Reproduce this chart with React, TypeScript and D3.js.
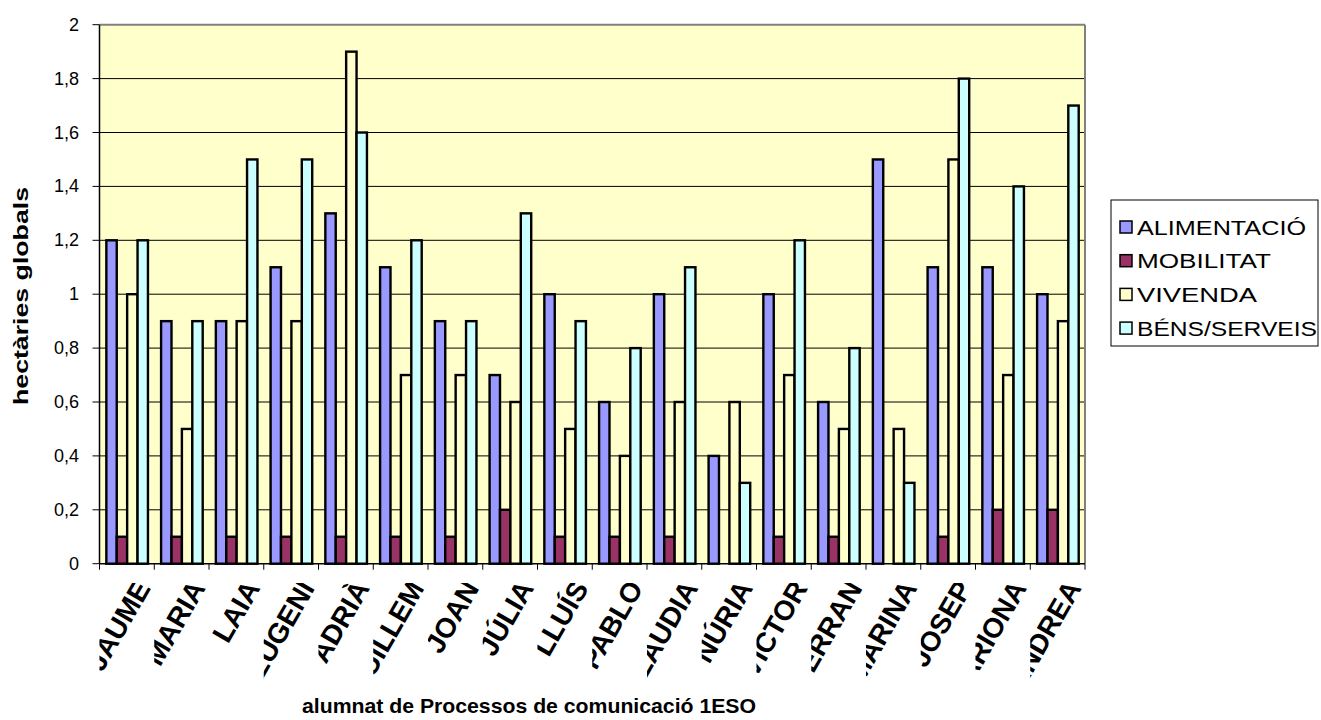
import React from "react";
import * as d3 from "d3";

const categories = [
  "JAUME", "MARIA", "LAIA", "EUGENI", "ADRIÀ", "GUILLEM", "JOAN", "JÚLIA", "LLUÍS",
  "PABLO", "CLAUDIA", "NÚRIA", "VÍCTOR", "FERRAN", "MARINA", "JOSEP", "MARIONA", "ANDREA",
];
const alimentacio = [1.2, 0.9, 0.9, 1.1, 1.3, 1.1, 0.9, 0.7, 1.0, 0.6, 1.0, 0.4, 1.0, 0.6, 1.5, 1.1, 1.1, 1.0];
const mobilitat = [0.1, 0.1, 0.1, 0.1, 0.1, 0.1, 0.1, 0.2, 0.1, 0.1, 0.1, 0, 0.1, 0.1, 0, 0.1, 0.2, 0.2];
const vivenda = [1.0, 0.5, 0.9, 0.9, 1.9, 0.7, 0.7, 0.6, 0.5, 0.4, 0.6, 0.6, 0.7, 0.5, 0.5, 1.5, 0.7, 0.9];
const bensServeis = [1.2, 0.9, 1.5, 1.5, 1.6, 1.2, 0.9, 1.3, 0.9, 0.8, 1.1, 0.3, 1.2, 0.8, 0.3, 1.8, 1.4, 1.7];

const seriesNames = ["ALIMENTACIÓ", "MOBILITAT", "VIVENDA", "BÉNS/SERVEIS"];
const seriesColors = ["#9999FF", "#993366", "#FFFFCC", "#CCFFFF"];
const seriesValues = [alimentacio, mobilitat, vivenda, bensServeis];

const yTicks = [0, 0.2, 0.4, 0.6, 0.8, 1, 1.2, 1.4, 1.6, 1.8, 2];
const yTickLabels = ["0", "0,2", "0,4", "0,6", "0,8", "1", "1,2", "1,4", "1,6", "1,8", "2"];

const yTitle = "hectàries globals";
const xTitle = "alumnat de Processos de comunicació 1ESO";

// layout
const W = 1321;
const H = 720;
const PL = 99.5;
const PR = 1085;
const PT = 24.7;
const PB = 563.7;
const legendTextLen = [169, 134, 120, 180];
const FONT = "'Liberation Sans', Arial, Helvetica, sans-serif";

export default function App() {
  const x0 = d3.scaleBand<string>().domain(categories).range([PL, PR]).padding(0);
  const bw = x0.bandwidth();
  const x1 = d3
    .scaleBand<string>()
    .domain(seriesNames)
    .range([0.125 * bw, 0.885 * bw])
    .padding(0);
  const y = d3.scaleLinear().domain([0, 2]).range([PB, PT]);

  return (
    <svg
      width={W}
      height={H}
      viewBox={`0 0 ${W} ${H}`}
      style={{ position: "absolute", left: 0, top: 0, background: "#fff" }}
      fontFamily={FONT}
    >
      <defs>
        {categories.map((c, i) => (
          <clipPath id={`clip${i}`} key={c}>
            <rect x={x0(c)!} y={583} width={bw} height={110} />
          </clipPath>
        ))}
      </defs>
      <rect x={0} y={0} width={W} height={H} fill="#fff" />
      {/* plot background */}
      <rect x={PL} y={PT} width={PR - PL} height={PB - PT} fill="#FFFFCC" />
      {/* grid lines */}
      {yTicks.slice(1, -1).map((t) => (
        <line key={t} x1={PL} x2={PR} y1={y(t)} y2={y(t)} stroke="#000" strokeWidth={1} />
      ))}
      {/* border top/right */}
      <line x1={PL} x2={PR} y1={PT} y2={PT} stroke="#808080" strokeWidth={2} />
      <line x1={PR} x2={PR} y1={PT} y2={PB} stroke="#808080" strokeWidth={2} />
      {/* bars */}
      {categories.map((c, i) => (
        <g key={c} transform={`translate(${x0(c)},0)`}>
          {seriesNames.map((s, j) => {
            const v = seriesValues[j][i];
            if (!v) return null;
            return (
              <rect
                key={s}
                x={x1(s)!}
                y={y(v)}
                width={x1.bandwidth()}
                height={y(0) - y(v)}
                fill={seriesColors[j]}
                stroke="#000"
                strokeWidth={2.4}
              />
            );
          })}
        </g>
      ))}
      {/* y axis */}
      <line x1={PL} x2={PL} y1={PT} y2={PB} stroke="#000" strokeWidth={1.5} />
      {yTicks.map((t, k) => (
        <g key={t}>
          <line x1={PL - 7} x2={PL} y1={y(t)} y2={y(t)} stroke="#000" strokeWidth={1} />
          <text x={79} y={y(t) + 6} textAnchor="end" fontSize={18} fill="#000">
            {yTickLabels[k]}
          </text>
        </g>
      ))}
      {/* x axis */}
      <line x1={PL} x2={PR} y1={PB} y2={PB} stroke="#000" strokeWidth={1.5} />
      {[...categories.map((c) => x0(c)!), PR].map((xv, k) => (
        <line key={k} x1={xv} x2={xv} y1={PB} y2={PB + 6} stroke="#000" strokeWidth={1} />
      ))}
      {/* x labels (rotated, clipped) */}
      {categories.map((c, i) => {
        const cx = x0(c)! + bw - 3;
        return (
          <g key={c} clipPath={`url(#clip${i})`}>
            <text
              transform={`translate(${cx},${588}) rotate(-60)`}
              textAnchor="end"
              fontSize={28}
              fontWeight="bold"
              fill="#000"
            >
              {c}
            </text>
          </g>
        );
      })}
      {/* axis titles */}
      <text
        transform={`translate(28,${296}) rotate(-90)`}
        textAnchor="middle"
        fontSize={21}
        fontWeight="bold"
        textLength={218}
        lengthAdjust="spacingAndGlyphs"
        fill="#000"
      >
        {yTitle}
      </text>
      <text
        x={529}
        y={713}
        textAnchor="middle"
        fontSize={21}
        fontWeight="bold"
        textLength={454}
        lengthAdjust="spacingAndGlyphs"
        fill="#000"
      >
        {xTitle}
      </text>
      {/* legend */}
      <rect x={1111} y={200} width={207} height={146} fill="#fff" stroke="#000" strokeWidth={1} />
      {seriesNames.map((s, j) => {
        const ly = 227 + j * 33.7;
        return (
          <g key={s}>
            <rect x={1120} y={ly - 6} width={12} height={12} fill={seriesColors[j]} stroke="#000" strokeWidth={1.5} />
            <text
              x={1137}
              y={ly + 7.5}
              fontSize={20.5}
              textLength={legendTextLen[j]}
              lengthAdjust="spacingAndGlyphs"
              fill="#000"
            >
              {s}
            </text>
          </g>
        );
      })}
    </svg>
  );
}
